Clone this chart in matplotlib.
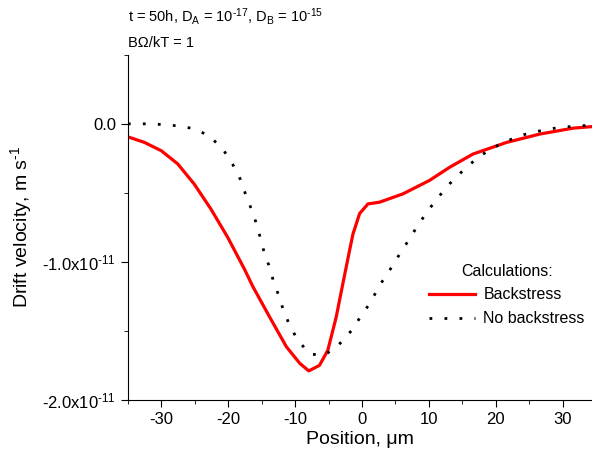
import numpy as np
import matplotlib
matplotlib.use("Agg")
import matplotlib.pyplot as plt
from matplotlib.ticker import MultipleLocator

plt.rcParams['font.family'] = ['Liberation Sans', 'DejaVu Sans']
plt.rcParams['mathtext.fontset'] = 'custom'
plt.rcParams['mathtext.rm'] = 'Liberation Sans'
plt.rcParams['mathtext.it'] = 'Liberation Sans:italic'
plt.rcParams['axes.unicode_minus'] = False

# curve with backstress (position in um, velocity in 1e-11 m/s)
pos_bs = [-35.0, -32.5, -30.0, -27.55, -25.1, -22.6, -20.1, -17.6, -16.3, -13.8, -11.3,
          -9.3, -7.95, -6.35, -5.1, -3.85, -2.85, -1.85, -1.35, -0.35, 0.9, 2.6, 6.1,
          10.1, 13.1, 16.6, 21.6, 26.6, 31.6, 34.4]
vel_bs = [-0.094, -0.135, -0.195, -0.29, -0.435, -0.616, -0.82, -1.05, -1.18, -1.40, -1.615,
          -1.735, -1.79, -1.75, -1.64, -1.40, -1.157, -0.917, -0.80, -0.65, -0.58, -0.568, -0.508,
          -0.41, -0.315, -0.219, -0.135, -0.074, -0.031, -0.02]

# curve without backstress
pos_nb = [-35.0, -33.8, -31.5, -29.3, -27.05, -24.9, -22.7, -20.7, -19.3, -18.2, -17.4,
          -16.6, -15.8, -15.2, -14.6, -13.8, -13.2, -12.4, -11.7, -10.8, -9.6, -7.8, -5.6,
          -3.45, -1.6, -0.1, 1.4, 2.5, 3.9, 5.3, 6.7, 8.1, 9.6, 11.2, 13.1, 15.2, 17.35,
          19.5, 21.75, 23.9, 26.2, 28.4, 30.6, 32.8, 34.4]
vel_nb = [0.0, 0.0, 0.0, -0.007, -0.017, -0.038, -0.092, -0.19, -0.296, -0.40, -0.51,
          -0.61, -0.72, -0.825, -0.936, -1.04, -1.146, -1.25, -1.357, -1.46, -1.567, -1.668,
          -1.677, -1.60, -1.50, -1.39, -1.285, -1.18, -1.08, -0.97, -0.864, -0.756, -0.647,
          -0.544, -0.435, -0.334, -0.243, -0.176, -0.123, -0.082, -0.055, -0.034, -0.022,
          -0.014, -0.01]

scale = 1e-11

fig = plt.figure(figsize=(5.92, 4.57), dpi=100)
ax = fig.add_axes([0.216, 0.125, 0.784, 0.755])

ax.plot(pos_bs, np.array(vel_bs) * scale, color='#ff0000', lw=2.3, label='Backstress')
ax.plot(pos_nb, np.array(vel_nb) * scale, color='black', lw=2.0,
        linestyle=(0, (1, 4.4)), label='No backstress')

ax.set_xlim(-35, 34.4)
ax.set_ylim(-2.0e-11, 0.5e-11)
ax.spines['top'].set_visible(False)
ax.spines['right'].set_visible(False)

ax.set_xticks([-30, -20, -10, 0, 10, 20, 30])
ax.xaxis.set_minor_locator(MultipleLocator(5))
ax.set_yticks([0, -1e-11, -2e-11])
ax.set_yticklabels(['0.0', r'-1.0x10$^{\text{-11}}$', r'-2.0x10$^{\text{-11}}$'])
ax.yaxis.set_minor_locator(MultipleLocator(0.5e-11))
ax.tick_params(which='major', length=5, labelsize=12)
ax.tick_params(which='minor', length=3)

ax.set_xlabel(u'Position, \u03bcm', fontsize=14, labelpad=3)
ax.set_ylabel(r'Drift velocity, m s$^{\text{-1}}$', fontsize=14, labelpad=6)

fig.text(0.216, 0.952, r't = 50h, D$_{\text{A}}$ = 10$^{\text{-17}}$, '
         r'D$_{\text{B}}$ = 10$^{\text{-15}}$', fontsize=10.5, va='baseline')
fig.text(0.216, 0.897, u'B\u03a9/kT = 1', fontsize=10.5, va='baseline')

leg = ax.legend(loc='upper left', bbox_to_anchor=(0.649, 0.395), frameon=False,
                title='Calculations:', fontsize=11.5, title_fontsize=11.5,
                borderpad=0, borderaxespad=0,
                handlelength=2.9, handletextpad=0.5, labelspacing=0.55)

fig.savefig('out.png', dpi=100)
